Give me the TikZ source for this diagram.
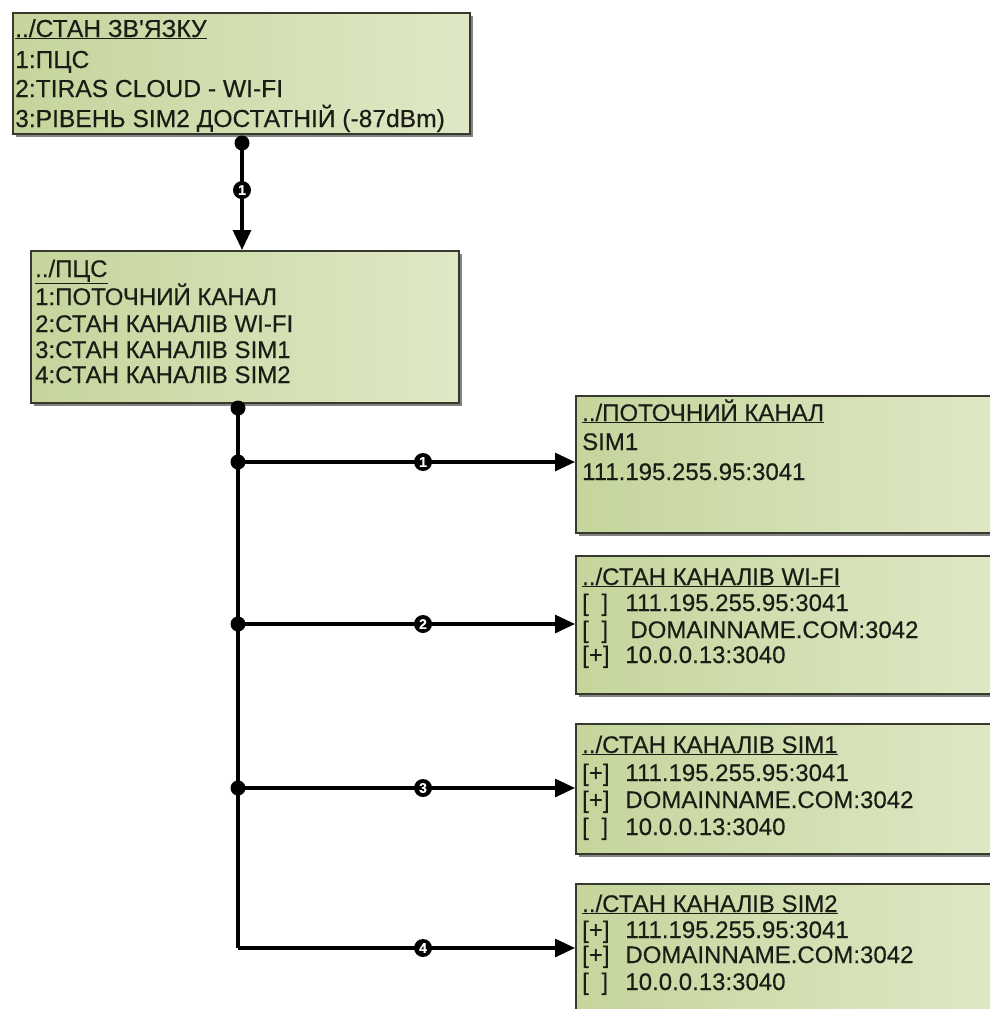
\documentclass[tikz,border=0pt]{standalone}
\usepackage{fontspec}
\setmainfont{Liberation Sans}[FakeBold=0.35]
\usetikzlibrary{arrows.meta,shadows}
\definecolor{boxL}{RGB}{197,213,156}
\definecolor{boxR}{RGB}{223,232,198}
\definecolor{boxB}{RGB}{55,57,44}
\definecolor{txtC}{RGB}{28,28,22}
\newcommand\ck[1]{\hbox to 1.08em{[\hfil#1\hfil]}\hspace{0.72em}}
\begin{document}
\begin{tikzpicture}[x=1pt,y=-1pt,
  panel/.style={draw=boxB, line width=1.8pt, left color=boxL, right color=boxR,
    anchor=north west, inner sep=0pt,
    drop shadow={shadow xshift=3.5pt, shadow yshift=-3.5pt, opacity=0.65, fill=black!75}},
  ln/.style={anchor=base west, inner sep=0pt, text=txtC, font=\fontsize{24}{28}\selectfont},
  lnb/.style={ln, font=\fontsize{24.6}{28}\selectfont},
  dot/.style={circle, fill=black, minimum size=15pt, inner sep=0pt},
  wire/.style={line width=3.1pt, draw=black},
  arr/.style={wire, -{Triangle[length=20pt,width=18pt]}},
  num/.style={circle, fill=black, text=white, minimum size=18pt, inner sep=0pt,
    font=\bfseries\fontsize{14}{14}\selectfont}]
\clip (0,0) rectangle (990,1009);
\useasboundingbox (0,0) rectangle (990,1009);

% boxes
\node[panel, minimum width=457pt, minimum height=121pt] (b1) at (12,12) {};
\node[panel, minimum width=428pt, minimum height=152pt] (b2) at (30,250) {};
\node[panel, minimum width=430pt, minimum height=137pt] (b3) at (575,395) {};
\node[panel, minimum width=430pt, minimum height=138pt] (b4) at (575,555) {};
\node[panel, minimum width=430pt, minimum height=130pt] (b5) at (575,723) {};
\node[panel, minimum width=430pt, minimum height=160pt] (b6) at (575,883) {};

% box 1 text
\node[lnb] (t11) at (15,37) {\underline{../СТАН ЗВ\textquotesingle ЯЗКУ}};
\node[lnb] (t12) at (15,68) {1:ПЦС};
\node[lnb] (t13) at (15,97) {2:TIRAS CLOUD - WI-FI};
\node[lnb] (t14) at (15,127) {3:РІВЕНЬ SIM2 ДОСТАТНІЙ (-87dBm)};

% box 2 text
\node[ln] (t21) at (35,277) {\underline{../ПЦС}};
\node[ln] (t22) at (35,305) {1:ПОТОЧНИЙ КАНАЛ};
\node[ln] (t23) at (35,332) {2:СТАН КАНАЛІВ WI-FI};
\node[ln] (t24) at (35,358) {3:СТАН КАНАЛІВ SIM1};
\node[ln] (t25) at (35,383) {4:СТАН КАНАЛІВ SIM2};

% box 3 text
\node[ln] (t31) at (582,421) {\underline{../ПОТОЧНИЙ КАНАЛ}};
\node[ln] (t32) at (582,450) {SIM1};
\node[ln] (t33) at (582,480) {111.195.255.95:3041};

% box 4 text
\node[ln] (t41) at (582,585) {\underline{../СТАН КАНАЛІВ WI-FI}};
\node[ln] (t42) at (582,611) {\ck{}111.195.255.95:3041};
\node[ln] (t43) at (582,638) {\ck{}\hspace{5pt}DOMAINNAME.COM:3042};
\node[ln] (t44) at (582,663) {\ck{+}10.0.0.13:3040};

% box 5 text
\node[ln] (t51) at (582,753) {\underline{../СТАН КАНАЛІВ SIM1}};
\node[ln] (t52) at (582,781) {\ck{+}111.195.255.95:3041};
\node[ln] (t53) at (582,808) {\ck{+}DOMAINNAME.COM:3042};
\node[ln] (t54) at (582,835) {\ck{}10.0.0.13:3040};

% box 6 text
\node[ln] (t61) at (582,912) {\underline{../СТАН КАНАЛІВ SIM2}};
\node[ln] (t62) at (582,938) {\ck{+}111.195.255.95:3041};
\node[ln] (t63) at (582,963) {\ck{+}DOMAINNAME.COM:3042};
\node[ln] (t64) at (582,990) {\ck{}10.0.0.13:3040};

% junctions
\coordinate (c0) at (242,143);
\coordinate (c1) at (238,408);
\coordinate (c2) at (238,462);
\coordinate (c3) at (238,624);
\coordinate (c4) at (238,788);
\coordinate (c5) at (238,948);

% connectors
\draw[arr] (c0) -- (c0 |- b2.north) node[num, pos=0.44] (n0) {1};
\draw[wire] (c1) -- (c5);
\draw[arr] (c2) -- (c2 -| b3.west) node[num, pos=0.549] (n1) {1};
\draw[arr] (c3) -- (c3 -| b4.west) node[num, pos=0.549] (n2) {2};
\draw[arr] (c4) -- (c4 -| b5.west) node[num, pos=0.549] (n3) {3};
\draw[arr] (c5) -- (c5 -| b6.west) node[num, pos=0.549] (n4) {4};

% dots
\node[dot] (d0) at (c0) {};
\node[dot] (d1) at (c1) {};
\node[dot] (d2) at (c2) {};
\node[dot] (d3) at (c3) {};
\node[dot] (d4) at (c4) {};
\end{tikzpicture}
\end{document}
